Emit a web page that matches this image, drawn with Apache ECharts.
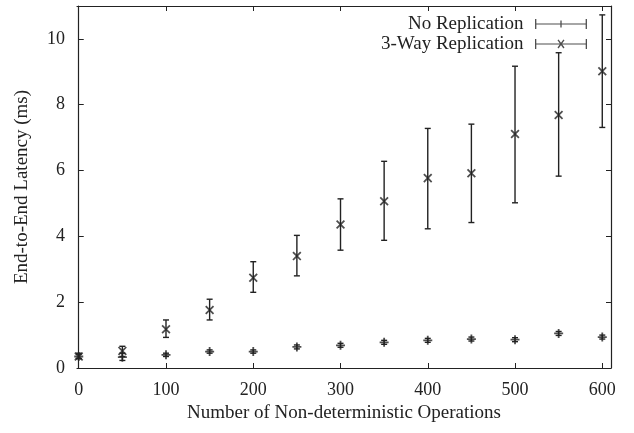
<!DOCTYPE html>
<html>
<head>
<meta charset="utf-8">
<script src="https://cdn.jsdelivr.net/npm/echarts@6/dist/echarts.min.js"></script>
<style>
  html, body { margin: 0; padding: 0; background: #fff; }
  #main { width: 634px; height: 433px; }
</style>
</head>
<body>
<div id="main"></div>
<script>
// operations on the x axis
var ops = [0, 50, 100, 150, 200, 250, 300, 350, 400, 450, 500, 550, 600];

// No Replication (ms)
var noRepMean = [0.35, 0.33, 0.40, 0.50, 0.50, 0.64, 0.69, 0.78, 0.84, 0.88, 0.86, 1.05, 0.94];
var noRepLow  = [0.29, 0.23, 0.35, 0.45, 0.45, 0.58, 0.63, 0.72, 0.78, 0.82, 0.80, 0.99, 0.88];
var noRepHigh = [0.42, 0.45, 0.45, 0.55, 0.55, 0.70, 0.75, 0.84, 0.90, 0.94, 0.92, 1.11, 1.00];

// 3-Way Replication (ms)
var repMean = [0.35, 0.52, 1.18, 1.76, 2.74, 3.40, 4.36, 5.07, 5.77, 5.92, 7.11, 7.69, 9.02];
var repLow  = [0.28, 0.35, 0.93, 1.46, 2.30, 2.80, 3.58, 3.88, 4.23, 4.42, 5.02, 5.83, 7.31];
var repHigh = [0.45, 0.66, 1.46, 2.09, 3.23, 4.03, 5.14, 6.28, 7.28, 7.41, 9.17, 9.58, 10.73];

var xTicks = [0, 100, 200, 300, 400, 500, 600];
var yTicks = [0, 2, 4, 6, 8, 10];

var ink = '#222';
var serif = 'Liberation Serif';

// symbols (filled paths)
var plusPath = 'path://M4,0 h2 v4 h4 v2 h-4 v4 h-2 v-4 h-4 v-2 h4 z';
var crossPath = 'path://M4.2,0 h1.6 v4.2 h4.2 v1.6 h-4.2 v4.2 h-1.6 v-4.2 h-4.2 v-1.6 h4.2 z';
// legend icons: |----+----|  and  |----x----|
var legPlus = 'path://M0,0 h1.3 v4.4 h24 v-3 h1.3 v3 h24 v-4.4 h1.3 v10 h-1.3 v-4.4 h-24 v3 h-1.3 v-3 h-24 v4.4 h-1.3 z';
var legCross = 'path://M0,0 h1.3 v10 h-1.3 z M0,4.4 h52 v1.2 h-52 z M50.7,0 h1.3 v10 h-1.3 z ' +
  'M22.5,1.2 l1.1,-0.8 l5.9,8.2 l-1.1,0.8 z M28.4,0.4 l1.1,0.8 l-5.9,8.2 l-1.1,-0.8 z';

function zip2(a, b) {
  var out = [];
  for (var i = 0; i < a.length; i++) out.push([a[i], b[i]]);
  return out;
}
function zip3(a, b, c) {
  var out = [];
  for (var i = 0; i < a.length; i++) out.push([a[i], b[i], c[i]]);
  return out;
}

function errorBars(params, api) {
  var x = api.value(0);
  var lo = api.coord([x, api.value(1)]);
  var hi = api.coord([x, api.value(2)]);
  var w = 3;
  var st = { stroke: ink, lineWidth: 1.4 };
  return {
    type: 'group',
    children: [
      { type: 'line', shape: { x1: lo[0], y1: lo[1], x2: hi[0], y2: hi[1] }, style: st },
      { type: 'line', shape: { x1: lo[0] - w, y1: lo[1], x2: lo[0] + w, y2: lo[1] }, style: st },
      { type: 'line', shape: { x1: hi[0] - w, y1: hi[1], x2: hi[0] + w, y2: hi[1] }, style: st }
    ]
  };
}

var tickText = { color: ink, fontFamily: serif, fontSize: 18 };
var nameText = { color: ink, fontFamily: serif, fontSize: 19 };

var option = {
  backgroundColor: '#fff',
  animation: false,
  textStyle: { fontFamily: serif },
  grid: { left: 77, right: 23, top: 6, bottom: 65 },
  legend: {
    orient: 'vertical',
    right: 42,
    top: 9,
    align: 'right',
    itemWidth: 53,
    itemHeight: 10,
    itemGap: 0,
    textStyle: { color: ink, fontFamily: serif, fontSize: 19, lineHeight: 20, padding: [0, 6, 0, 0] },
    data: [
      { name: 'No Replication', icon: legPlus },
      { name: '3-Way Replication', icon: legCross }
    ]
  },
  xAxis: [{
    type: 'value',
    min: -2,
    max: 610,
    name: 'Number of Non-deterministic Operations',
    nameLocation: 'middle',
    nameGap: 32,
    nameTextStyle: nameText,
    axisLine: { lineStyle: { color: ink, width: 1.2 } },
    axisTick: { inside: true, length: 5, lineStyle: { color: ink }, customValues: xTicks },
    axisLabel: Object.assign({ margin: 13, customValues: xTicks }, tickText),
    splitLine: { show: false }
  }, {
    type: 'value',
    position: 'top',
    min: -2,
    max: 610,
    axisLine: { onZero: false, lineStyle: { color: ink, width: 1.2 } },
    axisTick: { inside: true, length: 5, lineStyle: { color: ink }, customValues: xTicks },
    axisLabel: { show: false },
    splitLine: { show: false }
  }],
  yAxis: [{
    type: 'value',
    min: 0,
    max: 11,
    name: 'End-to-End Latency (ms)',
    nameLocation: 'middle',
    nameGap: 45,
    nameTextStyle: nameText,
    axisLine: { show: true, lineStyle: { color: ink, width: 1.2 } },
    axisTick: { show: true, inside: true, length: 5, lineStyle: { color: ink }, customValues: yTicks },
    axisLabel: Object.assign({ margin: 12, customValues: yTicks }, tickText),
    splitLine: { show: false }
  }, {
    type: 'value',
    position: 'right',
    min: 0,
    max: 11,
    axisLine: { show: true, onZero: false, lineStyle: { color: ink, width: 1.2 } },
    axisTick: { show: true, inside: true, length: 5, lineStyle: { color: ink }, customValues: yTicks },
    axisLabel: { show: false },
    splitLine: { show: false }
  }],
  series: [
    {
      type: 'custom',
      renderItem: errorBars,
      data: zip3(ops, noRepLow, noRepHigh),
      encode: { x: 0, y: [1, 2] },
      silent: true,
      z: 2
    },
    {
      type: 'custom',
      renderItem: errorBars,
      data: zip3(ops, repLow, repHigh),
      encode: { x: 0, y: [1, 2] },
      silent: true,
      z: 2
    },
    {
      name: 'No Replication',
      type: 'scatter',
      symbol: plusPath,
      symbolSize: 9,
      itemStyle: { color: ink },
      data: zip2(ops, noRepMean),
      z: 3
    },
    {
      name: '3-Way Replication',
      type: 'scatter',
      symbol: crossPath,
      symbolSize: 11,
      symbolRotate: 45,
      itemStyle: { color: ink },
      data: zip2(ops, repMean),
      z: 3
    }
  ]
};

var myChart = echarts.init(document.getElementById('main'));
myChart.setOption(option);
</script>
</body>
</html>
